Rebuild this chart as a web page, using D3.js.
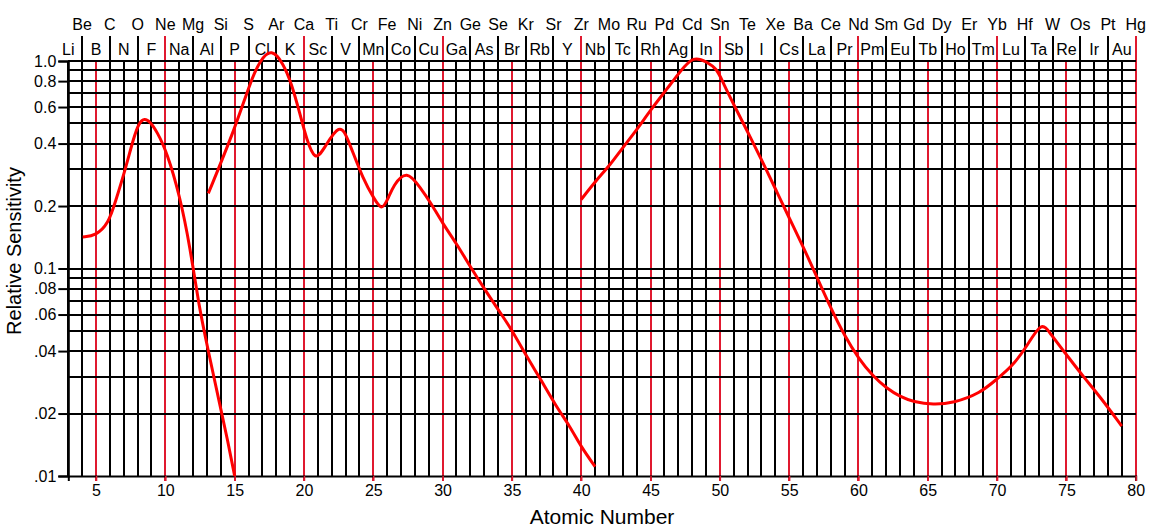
<!DOCTYPE html>
<html>
<head>
<meta charset="utf-8">
<script src="https://cdn.jsdelivr.net/npm/d3@7"></script>
<style>
  body { margin: 0; background: #fff; }
  text { font-family: "Liberation Sans", Arial, sans-serif; fill: #000; }
</style>
</head>
<body>
<div id="sensitivity"></div>
<script>
// element symbols, Z = 3 .. 80
var firstZ = 3;
var elements = ["Li","Be","B","C","N","O","F","Ne","Na","Mg","Al","Si","P","S","Cl","Ar","K","Ca",
  "Sc","Ti","V","Cr","Mn","Fe","Co","Ni","Cu","Zn","Ga","Ge","As","Se","Br","Kr","Rb","Sr","Y","Zr",
  "Nb","Mo","Tc","Ru","Rh","Pd","Ag","Cd","In","Sn","Sb","Te","I","Xe","Cs","Ba","La","Ce","Pr","Nd",
  "Pm","Sm","Eu","Gd","Tb","Dy","Ho","Er","Tm","Yb","Lu","Hf","Ta","W","Re","Os","Ir","Pt","Au","Hg"];

// axis ticks
var xTicks = [5,10,15,20,25,30,35,40,45,50,55,60,65,70,75,80];
var yTicks = [1.0,0.8,0.6,0.4,0.2,0.1,0.08,0.06,0.04,0.02,0.01];
var yTickLabels = ["1.0","0.8","0.6","0.4","0.2","0.1",".08",".06",".04",".02",".01"];
var yGrid = [1,0.9,0.8,0.7,0.6,0.5,0.4,0.3,0.2,0.1,0.09,0.08,0.07,0.06,0.05,0.04,0.03,0.02];

// relative sensitivity curves [atomic number, sensitivity]
var curveLight = [[4.04,0.142],[5,0.144],[5.9,0.165],[6.4,0.21],[7.1,0.298],[7.7,0.424],[8.1,0.505],
  [8.5,0.53],[8.9,0.51],[9.4,0.456],[10.1,0.366],[11.06,0.222],[11.78,0.127],[12.43,0.0655],
  [13,0.043],[14,0.021],[14.5,0.0148],[15,0.01]];
var curveMid = [[13.1,0.23],[15.03,0.474],[16.1,0.781],[16.83,1.011],[17.67,1.15],[18.5,0.975],
  [19.1,0.781],[19.7,0.56],[20.2,0.416],[20.8,0.33],[21.4,0.372],[22.6,0.51],[23.2,0.416],
  [24.28,0.267],[25.1,0.215],[25.61,0.19],[26.05,0.215],[26.45,0.252],[27.41,0.30],[28.4,0.245],
  [29.1,0.21],[30,0.165],[31,0.132],[32,0.102],[33,0.08],[34,0.0635],[35,0.0506],[36.07,0.0376],
  [37.03,0.0296],[38.2,0.0216],[39.2,0.0173],[40,0.0138],[41,0.0111]];
var curveHeavy = [[40,0.215],[41.1,0.267],[42.08,0.315],[43.04,0.386],[44,0.465],[45.04,0.585],
  [46.17,0.73],[47.13,0.89],[48.1,1.06],[49.05,0.99],[49.78,0.922],[50.25,0.78],[51.2,0.581],
  [52.18,0.432],[53.14,0.321],[54.1,0.235],[55.06,0.172],[56.02,0.127],[56.99,0.0913],
  [57.95,0.0655],[59.03,0.0469],[60,0.0369],[61.07,0.0301],[62.04,0.0265],[63,0.0241],
  [63.96,0.0228],[65.4,0.022],[66.84,0.0225],[68.77,0.025],[70.05,0.0296],[71.06,0.0336],
  [72.14,0.042],[73.22,0.056],[73.82,0.0486],[75.02,0.0383],[76.22,0.0301],[77.43,0.0241],
  [78.99,0.0174]];

sensitivityChart();

function sensitivityChart() {
  var svg = d3.select("#sensitivity")
    .append("svg")
    .attr("width", 1149)
    .attr("height", 527);

  var left = 68.3, right = 1135.7, top = 61, bottom = 476;

  // setup x
  var xScale = d3.scaleLinear().domain([firstZ, 80]).range([left, right]);
  // setup y (log)
  var yScale = d3.scaleLog().domain([0.01, 1]).range([bottom, top]);

  var allZ = d3.range(firstZ, 81);
  var grid = svg.append("g").attr("shape-rendering", "crispEdges");

  // black vertical lines, one per element (even ones reach into the label row)
  grid.selectAll(".vline")
    .data(allZ.filter(function(z) { return z % 5 != 0; }))
    .enter().append("line")
    .attr("class", "vline")
    .attr("x1", function(d) { return Math.round(xScale(d)); })
    .attr("x2", function(d) { return Math.round(xScale(d)); })
    .attr("y1", function(d) { return d % 2 == 0 ? 36 : top; })
    .attr("y2", bottom)
    .attr("stroke", "#000")
    .attr("stroke-width", 2);

  // red lines every 5
  grid.selectAll(".rline")
    .data(allZ.filter(function(z) { return z % 5 == 0; }))
    .enter().append("line")
    .attr("class", "rline")
    .attr("x1", function(d) { return Math.round(xScale(d)); })
    .attr("x2", function(d) { return Math.round(xScale(d)); })
    .attr("y1", function(d) { return d % 2 == 0 ? 36 : top; })
    .attr("y2", bottom + 5)
    .attr("stroke", "#e0192f")
    .attr("stroke-width", 1.5);

  // horizontal grid
  grid.selectAll(".hline")
    .data(yGrid)
    .enter().append("line")
    .attr("class", "hline")
    .attr("x1", left)
    .attr("x2", right)
    .attr("y1", function(d) { return Math.round(yScale(d)); })
    .attr("y2", function(d) { return Math.round(yScale(d)); })
    .attr("stroke", "#000")
    .attr("stroke-width", 2);

  // x-axis
  var xAxis = d3.axisBottom(xScale).tickValues(xTicks).tickSize(5).tickPadding(4);
  var gx = svg.append("g")
    .attr("transform", "translate(0," + bottom + ")")
    .call(xAxis);
  gx.select(".domain").attr("stroke", "#000").attr("stroke-width", 2);
  gx.selectAll(".tick line").attr("stroke", "#e0192f").attr("stroke-width", 1.5);
  gx.selectAll(".tick text")
    .attr("font-size", "16px")
    .attr("font-family", "Liberation Sans, Arial, sans-serif");

  // y-axis
  var yAxis = d3.axisLeft(yScale)
    .tickValues(yTicks)
    .tickSize(10)
    .tickPadding(2)
    .tickFormat(function(d, i) { return yTickLabels[i]; });
  var gy = svg.append("g")
    .attr("transform", "translate(" + left + ",0)")
    .call(yAxis);
  gy.select(".domain").attr("stroke", "#000").attr("stroke-width", 2);
  gy.selectAll(".tick line").attr("stroke", "#000").attr("stroke-width", 2);
  gy.selectAll(".tick text")
    .attr("font-size", "16px")
    .attr("font-family", "Liberation Sans, Arial, sans-serif");

  // element labels on top: even Z upper row, odd Z lower row
  svg.selectAll(".elem")
    .data(elements)
    .enter().append("text")
    .attr("class", "elem")
    .attr("x", function(d, i) { return xScale(firstZ + i); })
    .attr("y", function(d, i) { return (firstZ + i) % 2 == 0 ? 30 : 55; })
    .attr("font-size", "16px")
    .style("text-anchor", "middle")
    .text(function(d) { return d; });

  // curves
  var line = d3.line()
    .x(function(d) { return xScale(d[0]); })
    .y(function(d) { return yScale(d[1]); })
    .curve(d3.curveBasis);

  svg.selectAll(".curve")
    .data([curveLight, curveMid, curveHeavy])
    .enter().append("path")
    .attr("class", "curve")
    .attr("d", line)
    .attr("fill", "none")
    .attr("stroke", "#ff0000")
    .attr("stroke-width", 3)
    .attr("stroke-linejoin", "round");

  // axis labels
  svg.append("text")
    .attr("x", 602)
    .attr("y", 524)
    .attr("font-size", "21px")
    .style("text-anchor", "middle")
    .text("Atomic Number");

  svg.append("text")
    .attr("transform", "translate(21,251) rotate(-90)")
    .attr("font-size", "20px")
    .style("text-anchor", "middle")
    .text("Relative Sensitivity");
}
</script>
</body>
</html>
